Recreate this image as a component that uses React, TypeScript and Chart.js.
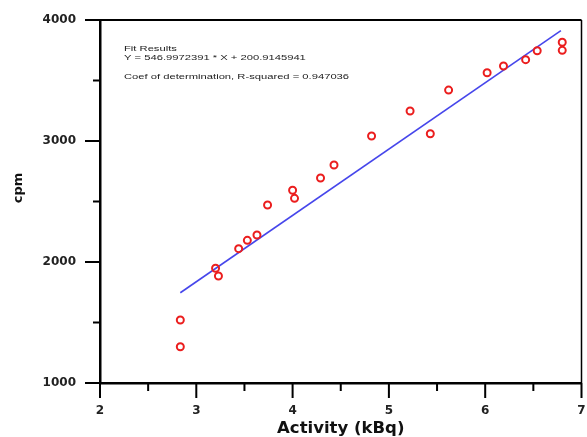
import React, { useEffect, useRef } from "react";
import { Chart, registerables } from "chart.js";

Chart.register(...registerables);

// Measured data (Activity in kBq vs counts per minute)
const activityKBq = [2.834, 2.834, 3.2, 3.23, 3.44, 3.53, 3.63, 3.74, 4.0, 4.02, 4.29, 4.43, 4.82, 5.22, 5.43, 5.62, 6.02, 6.19, 6.42, 6.54, 6.8, 6.8];
const countsCpm = [1521, 1300, 1948, 1884, 2110, 2179, 2223, 2471, 2593, 2526, 2694, 2802, 3041, 3248, 3060, 3421, 3564, 3620, 3672, 3746, 3816, 3749];

// Fitted line end points
const fitX = [2.834, 6.786];
const fitY = [1746, 3912];

// Axis ticks
const xTickValues = [2, 3, 4, 5, 6, 7];
const xMinorTicks = [2.5, 3.5, 4.5, 5.5, 6.5];
const yTickValues = [1000, 2000, 3000, 4000];
const yMinorTicks = [1500, 2500, 3500];

const annotationLines = [
  "Fit Results",
  "Y = 546.9972391 * X + 200.9145941",
  "Coef of determination, R-squared = 0.947036",
];
const xTitle = "Activity (kBq)";
const yTitle = "cpm";

const decorPlugin = {
  id: "decor",
  afterDraw(chart: any) {
    const { ctx, chartArea: a, scales } = chart;
    const x = scales.x;
    const y = scales.y;
    ctx.save();
    ctx.strokeStyle = "#000";
    // top and right frame
    ctx.lineWidth = 2;
    ctx.beginPath();
    ctx.moveTo(a.left, a.top);
    ctx.lineTo(a.right, a.top);
    ctx.stroke();
    ctx.lineWidth = 1.5;
    ctx.beginPath();
    ctx.moveTo(a.right, a.top);
    ctx.lineTo(a.right, a.bottom);
    ctx.stroke();
    // ticks
    ctx.lineWidth = 2;
    ctx.beginPath();
    yTickValues.forEach((v) => {
      const py = y.getPixelForValue(v);
      ctx.moveTo(a.left - 15, py);
      ctx.lineTo(a.left, py);
    });
    yMinorTicks.forEach((v) => {
      const py = y.getPixelForValue(v);
      ctx.moveTo(a.left - 7, py);
      ctx.lineTo(a.left, py);
    });
    xTickValues.forEach((v) => {
      const px = x.getPixelForValue(v);
      ctx.moveTo(px, a.bottom);
      ctx.lineTo(px, a.bottom + 15);
    });
    xMinorTicks.forEach((v) => {
      const px = x.getPixelForValue(v);
      ctx.moveTo(px, a.bottom);
      ctx.lineTo(px, a.bottom + 8);
    });
    ctx.stroke();

    // annotation text
    ctx.fillStyle = "#222";
    ctx.font = '8px "Liberation Sans", Arial, sans-serif';
    ctx.textBaseline = "middle";
    ctx.textAlign = "left";
    const offsets = [29, 38, 57];
    annotationLines.forEach((t, i) => {
      ctx.save();
      ctx.translate(a.left + 24, a.top + offsets[i]);
      ctx.scale(1.4, 1);
      ctx.fillText(t, 0, 0);
      ctx.restore();
    });

    // y title
    ctx.save();
    ctx.fillStyle = "#111";
    ctx.font = 'bold 13px "DejaVu Sans", sans-serif';
    ctx.textAlign = "center";
    ctx.textBaseline = "middle";
    ctx.translate(19, a.top + 168);
    ctx.rotate(-Math.PI / 2);
    ctx.fillText(yTitle, 0, 0);
    ctx.restore();

    ctx.restore();
  },
};

export default function App() {
  const ref = useRef<HTMLCanvasElement | null>(null);
  useEffect(() => {
    document.body.style.margin = "0";
    const canvas = ref.current;
    if (!canvas) return;
    const chart = new Chart(canvas, {
      type: "scatter",
      data: {
        datasets: [
          {
            type: "line",
            label: "Fit",
            data: fitX.map((v, i) => ({ x: v, y: fitY[i] })),
            borderColor: "rgb(70,70,235)",
            borderWidth: 1.6,
            pointRadius: 0,
            fill: false,
            order: 2,
          } as any,
          {
            type: "scatter",
            label: "Data",
            data: activityKBq.map((v, i) => ({ x: v, y: countsCpm[i] })),
            borderColor: "rgb(235,30,30)",
            backgroundColor: "rgba(0,0,0,0)",
            pointRadius: 3.5,
            pointBorderWidth: 2,
            pointHoverRadius: 3.5,
            order: 1,
          },
        ],
      },
      options: {
        responsive: false,
        animation: false,
        layout: { padding: { top: 20, right: 3, left: 0, bottom: 0 } },
        plugins: {
          legend: { display: false },
          tooltip: { enabled: false },
        },
        scales: {
          x: {
            type: "linear",
            min: 2,
            max: 7,
            afterBuildTicks: (s: any) => {
              s.ticks = xTickValues.map((v) => ({ value: v }));
            },
            afterFit: (s: any) => {
              s.height = 54;
              s.paddingLeft = 0;
              s.paddingRight = 0;
            },
            grid: { display: false, drawTicks: false },
            border: { display: true, color: "#000", width: 2.5 },
            ticks: {
              padding: 21,
              color: "#222",
              font: { family: '"DejaVu Sans", sans-serif', size: 12, weight: "bold" },
              maxRotation: 0,
              callback: (v: any) => String(v),
            },
            title: {
              display: true,
              text: xTitle,
              color: "#111",
              font: { family: '"DejaVu Sans", sans-serif', size: 16.5, weight: "bold", lineHeight: 0.95 },
              padding: { top: 0, bottom: 0 },
            },
          },
          y: {
            type: "linear",
            min: 1000,
            max: 4000,
            afterBuildTicks: (s: any) => {
              s.ticks = yTickValues.map((v) => ({ value: v }));
            },
            afterFit: (s: any) => {
              s.width = 100;
              s.paddingTop = 0;
              s.paddingBottom = 0;
            },
            grid: { display: false, drawTicks: false },
            border: { display: true, color: "#000", width: 2.5 },
            ticks: {
              padding: 24,
              color: "#222",
              font: { family: '"DejaVu Sans", sans-serif', size: 12, weight: "bold" },
              callback: (v: any) => String(v),
            },
          },
        },
      },
      plugins: [decorPlugin],
    });
    return () => chart.destroy();
  }, []);
  return (
    <div style={{ width: 587, height: 437, background: "#fff" }}>
      <canvas ref={ref} width={587} height={437} />
    </div>
  );
}
